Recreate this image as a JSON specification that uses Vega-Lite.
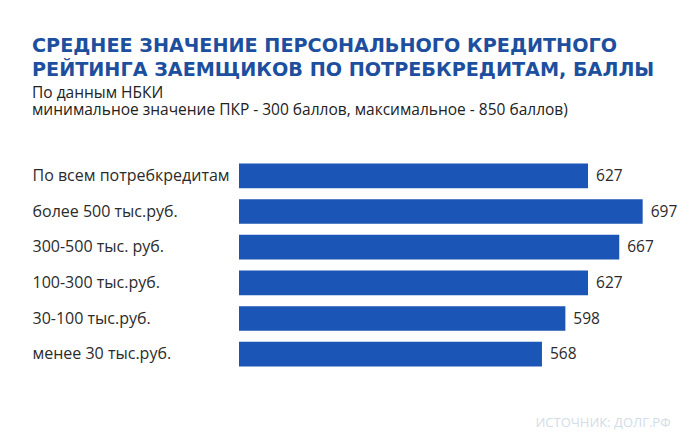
{
  "$schema": "https://vega.github.io/schema/vega-lite/v6.json",
  "autosize": {"type": "none"},
  "padding": {"left": 239, "top": 158, "right": 30, "bottom": 72},
  "width": 431,
  "height": 214,
  "background": "white",
  "title": {
    "text": ["СРЕДНЕЕ ЗНАЧЕНИЕ ПЕРСОНАЛЬНОГО КРЕДИТНОГО", "РЕЙТИНГА ЗАЕМЩИКОВ ПО ПОТРЕБКРЕДИТАМ, БАЛЛЫ"],
    "subtitle": ["По данным НБКИ", "минимальное значение ПКР - 300 баллов, максимальное - 850 баллов)"],
    "anchor": "start",
    "frame": "group",
    "dx": -207,
    "offset": 40,
    "font": "DejaVu Sans",
    "fontSize": 19.2,
    "fontWeight": "bold",
    "color": "#1d4f9e",
    "lineHeight": 23.5,
    "subtitleFont": "Open Sans",
    "subtitleFontSize": 15.5,
    "subtitleColor": "#222222",
    "subtitleLineHeight": 17,
    "subtitlePadding": 5.5
  },
  "data": {
    "values": [
      {"category": "По всем потребкредитам", "value": 627},
      {"category": "более 500 тыс.руб.", "value": 697},
      {"category": "300-500 тыс. руб.", "value": 667},
      {"category": "100-300 тыс.руб.", "value": 627},
      {"category": "30-100 тыс.руб.", "value": 598},
      {"category": "менее 30 тыс.руб.", "value": 568}
    ]
  },
  "encoding": {
    "y": {
      "field": "category",
      "type": "nominal",
      "sort": null,
      "scale": {"paddingInner": 0.31, "paddingOuter": 0.155},
      "axis": {
        "title": null,
        "ticks": false,
        "domain": false,
        "labelAlign": "left",
        "labelPadding": 207,
        "labelLimit": 260,
        "labelFont": "Open Sans",
        "labelFontSize": 16,
        "labelColor": "#2b2b2b"
      }
    },
    "x": {
      "field": "value",
      "type": "quantitative",
      "scale": {"domain": [180, 732], "zero": false, "clamp": true},
      "axis": {
        "title": "ИСТОЧНИК: ДОЛГ.РФ",
        "titleAnchor": "end",
        "titleFont": "Open Sans",
        "titleFontSize": 13,
        "titleFontWeight": "normal",
        "titleColor": "#d3dce8",
        "titlePadding": 44,
        "labels": false,
        "ticks": false,
        "domain": false,
        "grid": false
      }
    }
  },
  "layer": [
    {"mark": {"type": "bar", "color": "#1b55b5"}},
    {
      "mark": {"type": "text", "align": "left", "dx": 8, "font": "Open Sans", "fontSize": 15.5, "color": "#2b2b2b"},
      "encoding": {"text": {"field": "value", "type": "quantitative"}}
    }
  ],
  "config": {"view": {"stroke": null}}
}
